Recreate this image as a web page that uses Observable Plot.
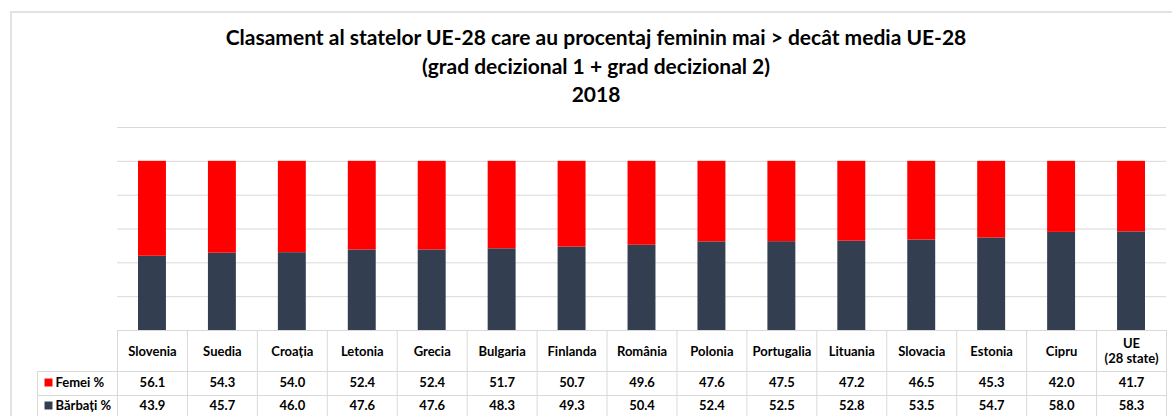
<!DOCTYPE html>
<html>
<head>
<meta charset="utf-8">
<script src="https://cdn.jsdelivr.net/npm/d3@7"></script>
<script src="https://cdn.jsdelivr.net/npm/@observablehq/plot@0.6"></script>
<style>
  html, body { margin: 0; padding: 0; background: #fff; }
  #wrap { position: relative; width: 1172px; height: 416px; overflow: hidden; font-family: Lato, "Open Sans", sans-serif; }
  #border { position: absolute; left: 10px; top: 11px; right: -5px; bottom: -5px; border-left: 2px solid #e2e2e2; border-top: 2px solid #e2e2e2; }
  #title { position: absolute; left: 10px; width: 1172px; top: 23px; text-align: center; font-weight: bold; font-size: 21px; line-height: 28.5px; color: #000; }
  #chart { position: absolute; left: 0; top: 0; }
</style>
</head>
<body>
<div id="wrap">
  <div id="border"></div>
  <div id="chart"></div>
  <div id="title">Clasament al statelor UE-28 care au procentaj feminin mai &gt; decât media UE-28<br>(grad decizional 1 + grad decizional 2)<br>2018</div>
</div>
<script>
const categories = ["Slovenia","Suedia","Croația","Letonia","Grecia","Bulgaria","Finlanda","România","Polonia","Portugalia","Lituania","Slovacia","Estonia","Cipru","UE (28 state)"];
const headerLabels = ["Slovenia","Suedia","Croația","Letonia","Grecia","Bulgaria","Finlanda","România","Polonia","Portugalia","Lituania","Slovacia","Estonia","Cipru","UE\n(28 state)"];
const femei = [56.1,54.3,54.0,52.4,52.4,51.7,50.7,49.6,47.6,47.5,47.2,46.5,45.3,42.0,41.7];
const barbati = [43.9,45.7,46.0,47.6,47.6,48.3,49.3,50.4,52.4,52.5,52.8,53.5,54.7,58.0,58.3];
const seriesNames = ["Femei %","Bărbați %"];
const seriesColors = ["#ff0000","#333f50"];
const yTicks = [0,20,40,60,80,100,120];

const W = 1172, H = 416, mL = 117, mR = 6, mT = 127, mB = 86;
const step = (W - mL - mR) / categories.length;
const frameH = H - mT - mB;
const grid = "#d9d9d9";
const font = "Lato, 'Open Sans', sans-serif";

const long = [];
categories.forEach((c, i) => {
  long.push({country: c, series: seriesNames[1], value: barbati[i]});
  long.push({country: c, series: seriesNames[0], value: femei[i]});
});

const rows = [
  {name: seriesNames[0], values: femei, dy: 52, color: seriesColors[0]},
  {name: seriesNames[1], values: barbati, dy: 75, color: seriesColors[1]}
];

const txt = {fontWeight: "bold", fontSize: 13, fill: "#000", lineAnchor: "middle"};

const marks = [
  Plot.ruleY(yTicks, {y: d => d, stroke: grid, strokeWidth: 1}),
  Plot.barY(long, {x: "country", y: "value", fill: "series", order: [seriesNames[1], seriesNames[0]], insetLeft: 21, insetRight: 21}),
  // table horizontal lines
  Plot.ruleY([0], {y: d => d, dy: 41, insetLeft: -80, stroke: grid}),
  Plot.ruleY([0], {y: d => d, dy: 65, insetLeft: -80, stroke: grid}),
  // table vertical lines
  Plot.ruleX(categories, {x: d => d, dx: -step / 2, insetTop: frameH, insetBottom: -mB, stroke: grid}),
  Plot.ruleX([categories[categories.length - 1]], {x: d => d, dx: step / 2, insetTop: frameH, insetBottom: -mB, stroke: grid}),
  Plot.ruleX([categories[0]], {x: d => d, dx: -step / 2 - 80, insetTop: frameH + 41, insetBottom: -mB, stroke: grid}),
  // header
  Plot.text(categories, {x: d => d, text: (d, i) => headerLabels[i], frameAnchor: "bottom", dy: 20, lineHeight: 1.2, ...txt})
];
rows.forEach(r => {
  marks.push(Plot.text(categories, {x: d => d, text: (d, i) => r.values[i].toFixed(1), frameAnchor: "bottom", dy: r.dy, ...txt}));
  marks.push(Plot.text([r.name], {text: d => d, frameAnchor: "bottom-left", dx: -62, dy: r.dy, textAnchor: "start", ...txt}));
  marks.push(Plot.dot([r.name], {frameAnchor: "bottom-left", dx: -69, dy: r.dy, symbol: "square", r: 4.5, fill: r.color, stroke: "none"}));
});

const chart = Plot.plot({
  width: W, height: H,
  marginLeft: mL, marginRight: mR, marginTop: mT, marginBottom: mB,
  style: {fontFamily: font, background: "transparent", overflow: "visible"},
  x: {type: "band", domain: categories, padding: 0, round: false, axis: null},
  y: {domain: [0, 120], axis: null},
  color: {domain: seriesNames, range: seriesColors},
  marks
});
document.getElementById("chart").appendChild(chart);
</script>
</body>
</html>
